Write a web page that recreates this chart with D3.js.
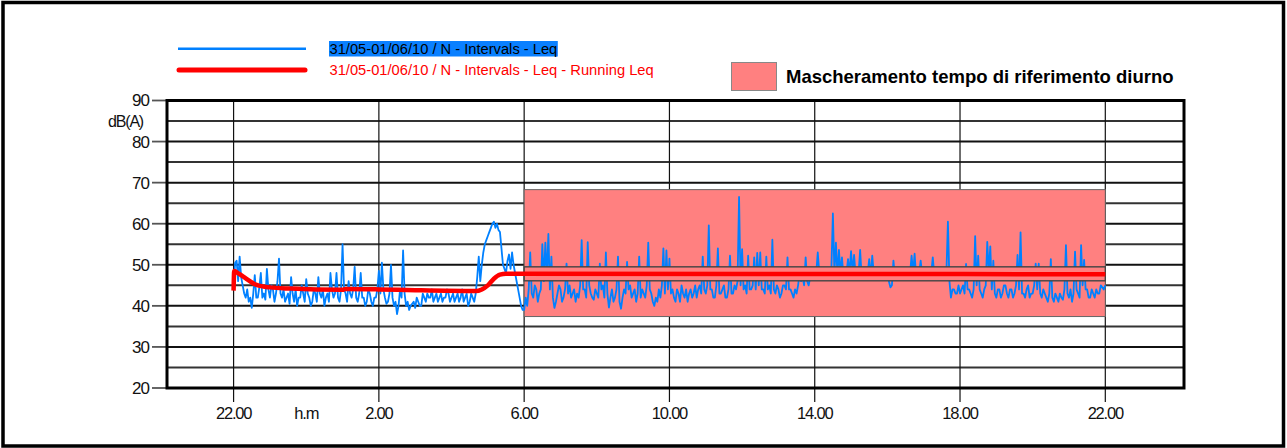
<!DOCTYPE html>
<html>
<head>
<meta charset="utf-8">
<script src="https://cdn.jsdelivr.net/npm/d3@7"></script>
<style>
  html, body { margin: 0; padding: 0; background: #fff; }
  svg { display: block; font-family: "Liberation Sans", Arial, sans-serif; }
</style>
</head>
<body>
<svg id="chart" width="1287" height="448"></svg>
<script>
// ---------------- DATA ----------------
const seriesStart = "2010-05-31T22:00:00";   // first sample of the Leq intervals
const intervalMinutes = 2.5;                  // sampling step of the interval series
// Leq intervals, dB(A), night part (22:00 -> 6:00), one row per hour
const leqNight = [
  44, 50.5, 51, 46, 52, 47, 45, 43, 42, 44, 41, 42, 39.5, 43, 47.5, 42, 42, 44.5, 48, 42, 43, 41.5, 49, 44,
  42, 45, 44, 41, 43, 46, 51.5, 43, 42, 44, 41, 42, 43, 40.5, 47, 43, 41, 44, 40, 42, 42, 45, 43, 41,
  46.5, 43, 42, 40, 41, 44, 43, 41, 47, 43, 42, 44, 40, 42, 43, 41, 48, 44, 42, 43, 48, 42, 41, 44,
  55, 44, 43, 41, 46, 43, 42, 44, 49.5, 42, 41, 43, 48, 42, 42, 40, 41, 44, 43, 41, 40, 42, 42, 44,
  48.5, 43, 50.5, 44, 42, 40.5, 41, 43, 50, 42, 40, 41, 38, 40, 44, 42, 53.5, 43, 40, 41, 39, 40, 40.5, 41,
  39.5, 42, 41, 40, 40, 43, 42, 41, 43, 42, 42, 44, 41, 42, 43, 41, 42, 43, 41, 42, 42, 44, 43, 41,
  42, 43, 41, 42, 43, 41, 42, 44, 41, 42, 43, 40, 41, 43, 42, 41, 43, 47, 52, 46, 50, 53, 55, 56,
  57, 58, 59, 60, 60.5, 59, 60, 58.5, 58, 54, 50, 49, 48, 51, 52.5, 49, 53, 50, 48, 46, 44, 42, 40, 39
];
// Leq intervals, dB(A), day part (6:00 -> 22:00), one row per hour
const leqDay = [
  39, 42, 40, 44, 53, 43, 42, 45, 44, 41, 43, 44, 55, 46, 55.4, 47, 57.5, 44, 52, 42, 39.5, 41, 43, 45,
  44, 41, 42, 44, 50.3, 43, 45, 42, 43, 44, 41, 43, 42, 45, 56, 44, 44, 42, 55.5, 45, 43, 42, 41.5, 44,
  43, 42, 50.3, 44, 45, 42, 53, 43, 39.6, 42, 44, 41, 42, 44, 52, 41, 39.3, 42, 44, 43, 50.7, 44, 45, 42,
  43, 44, 41, 43, 52, 42, 44, 43, 42, 45, 55.4, 44, 43, 41, 40, 42, 41, 44, 42, 45, 54, 43, 53.5, 44,
  51.5, 43, 44, 42, 41, 44, 43, 41, 45, 43, 42, 44, 41, 43, 44, 42, 43, 45, 42, 44, 45, 43, 52, 44,
  43, 45, 59.6, 44, 44, 42, 42, 45, 54, 43, 43, 44, 45, 42, 42, 44, 52.2, 43, 43, 45, 44, 46, 66.5, 45,
  53.8, 44, 45, 43, 52.2, 44, 44, 45, 51.8, 44, 52.9, 45, 53, 44, 44, 43, 52, 44, 45, 43, 56.1, 44, 43, 45,
  44, 42, 43, 45, 45, 44, 51.8, 44, 44, 43, 42, 44, 43, 45, 48, 46, 47, 45, 51.8, 46, 45, 47, 47, 48,
  47, 48, 53, 48, 47.5, 47, 48, 47.5, 47, 48, 48.5, 49, 62.5, 48, 55.4, 47.5, 53.6, 48, 51.8, 47, 47, 48, 51.4, 48,
  53.3, 48, 52.4, 47.5, 47, 48, 53.6, 47, 48, 47.5, 47.5, 48, 51.4, 47, 52.2, 48, 47.5, 47, 48, 47.5, 47, 48, 48, 47,
  47.5, 46, 44.5, 45, 51, 47, 47, 48, 48, 47, 47.5, 48, 48, 47.5, 47, 48, 52.2, 48, 52.7, 47, 47.5, 48, 51, 47.5,
  48, 47, 47.5, 48, 47, 48, 51.8, 47.5, 48, 47, 47, 48, 48, 47.5, 47.5, 48, 60.5, 46, 42, 44, 44, 43, 43, 45,
  43, 44, 45, 43, 50.2, 44, 44, 43, 42, 44, 57, 45, 52.2, 44, 43, 42, 44, 45, 55.6, 48, 54.5, 44, 51, 43,
  42, 44, 44, 42, 43, 45, 45, 43, 42, 44, 44, 42, 43, 45, 52.4, 44, 57.9, 43, 43, 42, 44, 45, 42, 43,
  43, 45, 50.3, 44, 50.3, 43, 42, 44, 43, 42, 41, 43, 51.4, 42, 41, 43, 42, 41, 43, 42, 41.5, 44, 54.8, 43,
  42, 44, 41, 43, 53.2, 44, 43, 42, 54.8, 45, 51.2, 44, 44, 42, 42, 44, 43, 42, 44, 43, 43, 45, 44.5, 44,
  45
];
// Running Leq: minutes after 22:00 and value
const runMinutes = [0, 1, 5, 16, 38, 60, 95, 180, 185, 240, 300, 400, 410, 420, 430, 440, 450, 1440];
const runLeq     = [43.7, 48.5, 48.2, 47.1, 45.1, 44.5, 44.2, 43.9, 44.1, 44.0, 43.8, 43.6, 44.0, 45.0, 46.6, 47.6, 47.8, 47.7];
// Masking of the daytime reference period
const maskStart = "2010-06-01T06:00:00";
const maskEnd   = "2010-06-01T22:00:00";
const maskRange = [37.4, 68.3];      // dB extent of the mask box
const maskBand  = [46.1, 49.5];      // inner band of the mask
// Axes
const xDomain = ["2010-05-31T20:10:00", "2010-06-02T00:10:00"];
const xTicks = ["2010-05-31T22:00:00", "2010-06-01T02:00:00", "2010-06-01T06:00:00",
                "2010-06-01T10:00:00", "2010-06-01T14:00:00", "2010-06-01T18:00:00",
                "2010-06-01T22:00:00"];
const yDomain = [20, 90];
const yMajorTicks = [20, 30, 40, 50, 60, 70, 80, 90];
const yGridTicks = [25, 30, 35, 40, 45, 50, 55, 60, 65, 70, 75, 80, 85];
const legendLabels = ["31/05-01/06/10 / N - Intervals - Leq",
                      "31/05-01/06/10 / N - Intervals - Leq - Running Leq"];
const maskLabel = "Mascheramento tempo di riferimento diurno";
const yUnit = "dB(A)";
const xUnit = "h.m";

// ---------------- CHART ----------------
const svg = d3.select("#chart");
const plot = { left: 167, top: 100.5, right: 1184, bottom: 388 };
const parse = s => new Date(s);
const x = d3.scaleTime().domain(xDomain.map(parse)).range([plot.left, plot.right]);
const y = d3.scaleLinear().domain(yDomain).range([plot.bottom, plot.top]);

const t0 = parse(seriesStart);
const leqAll = leqNight.concat(leqDay);
const leqData = leqAll.map((v, i) => ({ t: new Date(t0.getTime() + i * intervalMinutes * 60000), v }));
const runData = runMinutes.map((m, i) => ({ t: new Date(t0.getTime() + m * 60000), v: runLeq[i] }));

// outer frame
svg.append("rect").attr("x", 3).attr("y", 2.5).attr("width", 1280.5).attr("height", 443.5)
  .attr("fill", "#fff").attr("stroke", "#000").attr("stroke-width", 3.5);

// horizontal grid
svg.append("g").selectAll("line").data(yGridTicks).join("line")
  .attr("x1", plot.left).attr("x2", plot.right)
  .attr("y1", d => y(d)).attr("y2", d => y(d))
  .attr("stroke", d => d % 10 === 0 ? "#111" : "#333")
  .attr("stroke-width", 2);

// vertical grid + x ticks
const xTickDates = xTicks.map(parse);
svg.append("g").selectAll("line").data(xTickDates).join("line")
  .attr("x1", d => x(d)).attr("x2", d => x(d))
  .attr("y1", plot.top).attr("y2", plot.bottom + 14)
  .attr("stroke", "#111").attr("stroke-width", 1.2);

// y ticks (outside left)
svg.append("g").selectAll("line").data(yMajorTicks).join("line")
  .attr("x1", plot.left - 15).attr("x2", plot.left)
  .attr("y1", d => y(d)).attr("y2", d => y(d))
  .attr("stroke", "#555").attr("stroke-width", 1.8);

// mask box
const mx0 = x(parse(maskStart)), mx1 = x(parse(maskEnd));
svg.append("rect").attr("x", mx0).attr("y", y(maskRange[1]))
  .attr("width", mx1 - mx0).attr("height", y(maskRange[0]) - y(maskRange[1]))
  .attr("fill", "#ff8080").attr("stroke", "#666").attr("stroke-width", 1);

// clip
svg.append("clipPath").attr("id", "clip").append("rect")
  .attr("x", plot.left).attr("y", plot.top)
  .attr("width", plot.right - plot.left).attr("height", plot.bottom - plot.top);

// blue Leq line
const line = d3.line().x(d => x(d.t)).y(d => y(d.v));
svg.append("path").datum(leqData).attr("d", line)
  .attr("clip-path", "url(#clip)")
  .attr("fill", "none").attr("stroke", "#0080ff").attr("stroke-width", 1.8)
  .attr("stroke-linejoin", "round");

// inner band of mask
svg.append("rect").attr("x", mx0).attr("y", y(maskBand[1]))
  .attr("width", mx1 - mx0).attr("height", y(maskBand[0]) - y(maskBand[1]))
  .attr("fill", "#ff8080").attr("stroke", "#444").attr("stroke-width", 1.4);

// red running Leq
svg.append("path").datum(runData).attr("d", d3.line().x(d => x(d.t)).y(d => y(d.v)).curve(d3.curveMonotoneX))
  .attr("fill", "none").attr("stroke", "#ff0000").attr("stroke-width", 4.5)
  .attr("stroke-linejoin", "round");

// plot border
svg.append("rect").attr("x", plot.left).attr("y", plot.top)
  .attr("width", plot.right - plot.left).attr("height", plot.bottom - plot.top)
  .attr("fill", "none").attr("stroke", "#000").attr("stroke-width", 3);

// y labels
svg.append("g").selectAll("text").data(yMajorTicks).join("text")
  .attr("x", 149).attr("y", d => y(d)).attr("dy", "0.35em")
  .attr("text-anchor", "end").attr("font-size", 17).attr("letter-spacing", -1)
  .attr("fill", "#111").text(d => d);
svg.append("text").attr("x", 143).attr("y", 121).attr("dy", "0.35em")
  .attr("text-anchor", "end").attr("font-size", 16).attr("letter-spacing", -1.2)
  .attr("fill", "#111").text(yUnit);

// x labels
const fmt = d3.timeFormat("%-H.%M");
svg.append("g").selectAll("text").data(xTickDates).join("text")
  .attr("x", d => x(d)).attr("y", 413).attr("dy", "0.35em")
  .attr("text-anchor", "middle").attr("font-size", 16.5).attr("letter-spacing", -1.2)
  .attr("fill", "#111").text(d => fmt(d));
svg.append("text").attr("x", (x(xTickDates[0]) + x(xTickDates[1])) / 2).attr("y", 413).attr("dy", "0.35em")
  .attr("text-anchor", "middle").attr("font-size", 16.5).attr("letter-spacing", -1.2)
  .attr("fill", "#111").text(xUnit);

// legend
const lg = svg.append("g");
lg.append("line").attr("x1", 178).attr("x2", 306).attr("y1", 48.7).attr("y2", 48.7)
  .attr("stroke", "#0080ff").attr("stroke-width", 2.5);
lg.append("line").attr("x1", 179).attr("x2", 305).attr("y1", 70).attr("y2", 70)
  .attr("stroke", "#ff0000").attr("stroke-width", 5).attr("stroke-linecap", "round");
const t1 = lg.append("text").attr("x", 329.5).attr("y", 53.8).attr("font-size", 14.7)
  .attr("fill", "#000").text(legendLabels[0]);
const bb = t1.node().getBBox();
lg.insert("rect", "text").attr("x", 329).attr("y", 41).attr("width", bb.width + 1).attr("height", 15.5)
  .attr("fill", "#0a80ff");
lg.append("text").attr("x", 329.5).attr("y", 75.3).attr("font-size", 14.7)
  .attr("fill", "#ff0000").text(legendLabels[1]);

lg.append("rect").attr("x", 731.5).attr("y", 62.5).attr("width", 45).attr("height", 28)
  .attr("fill", "#ff8080").attr("stroke", "#888").attr("stroke-width", 1);
lg.append("text").attr("x", 786).attr("y", 83).attr("font-size", 18.5).attr("font-weight", "bold")
  .attr("fill", "#000").text(maskLabel);
</script>
</body>
</html>
